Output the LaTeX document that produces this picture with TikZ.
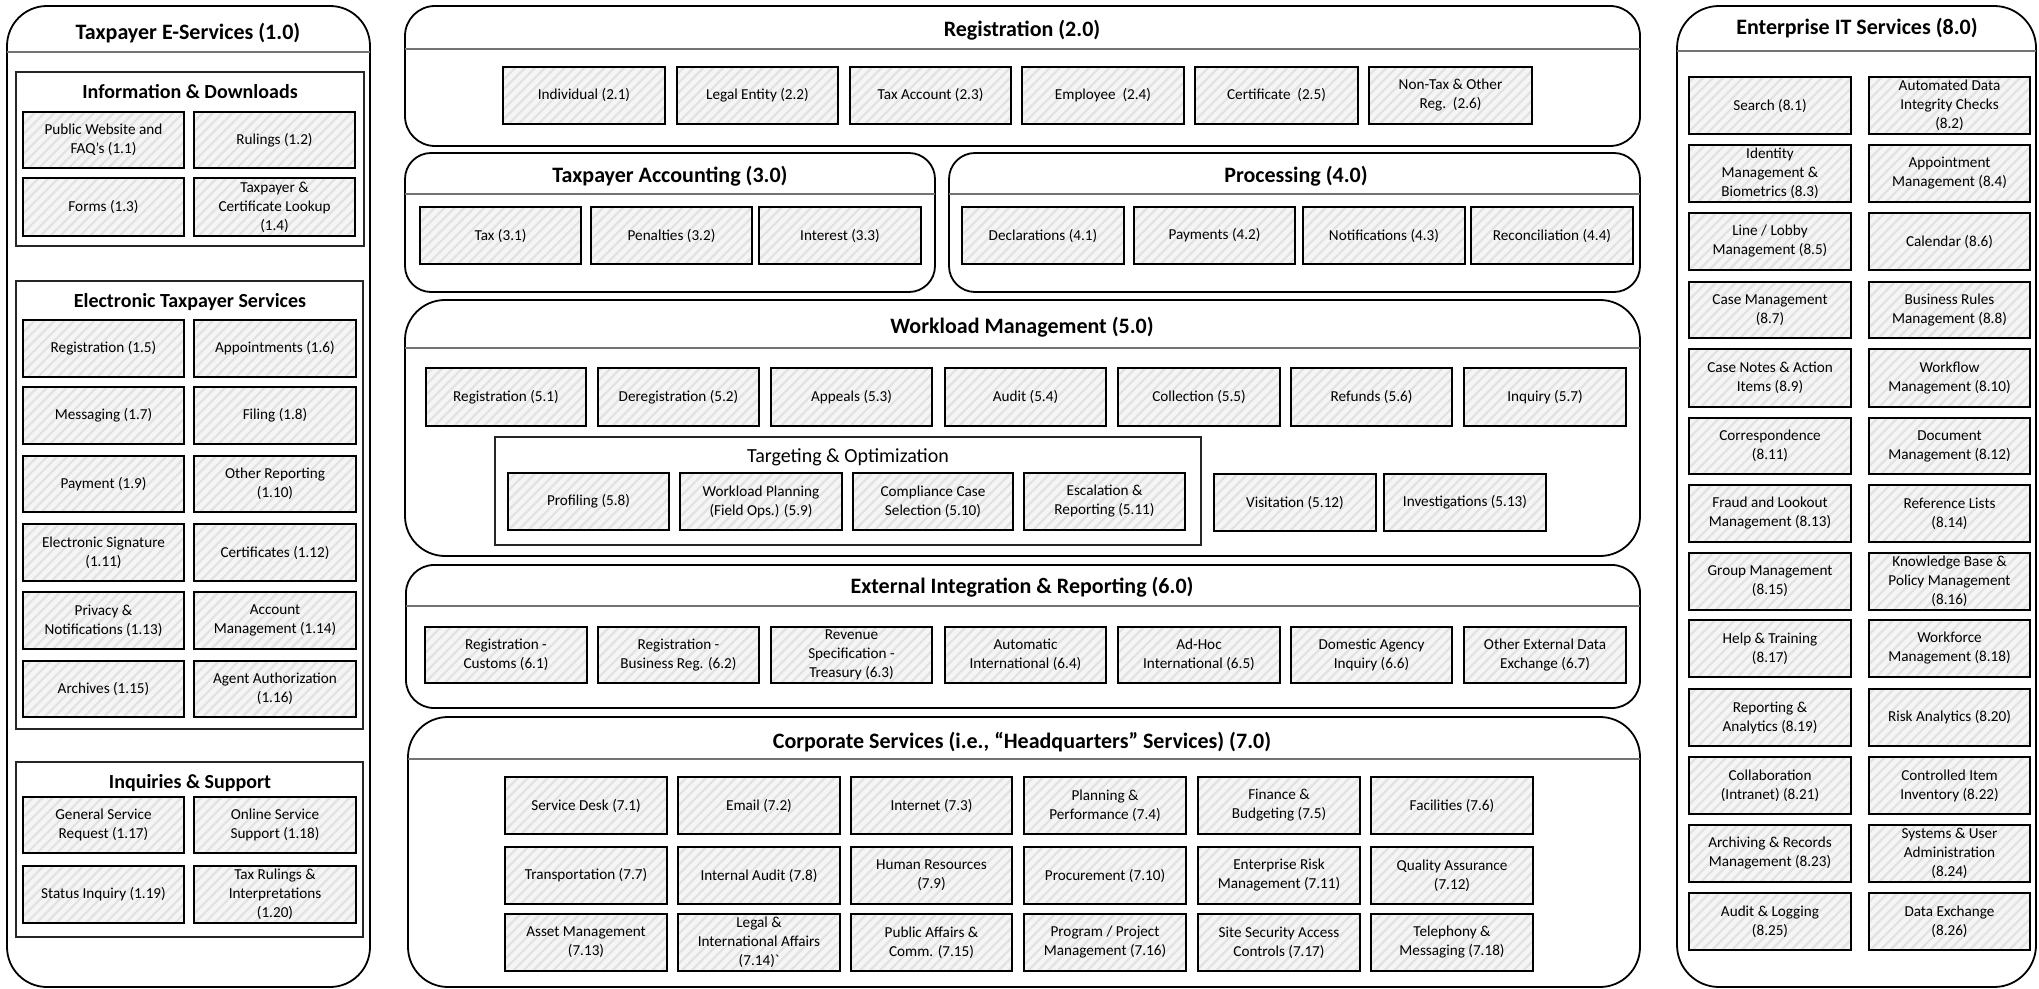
\documentclass[tikz,border=0pt]{standalone}
\usepackage{fontspec}
\setmainfont{Carlito}
\newfontfamily\nomapfont{Carlito}[Ligatures=ResetAll]
\usetikzlibrary{patterns.meta}
\definecolor{hatchbg}{gray}{0.96}
\definecolor{hatchfg}{gray}{0.885}
\definecolor{sepgray}{gray}{0.45}
\tikzset{
  item/.style={draw=black, line width=1.15pt, preaction={fill=hatchbg},
    pattern={Lines[angle=45,distance=3.5pt,line width=1.1pt]}, pattern color=hatchfg,
    inner sep=0pt, align=center, font=\fontsize{7.6}{9.5}\selectfont, text=black},
  panel/.style={draw=black, line width=0.9pt, inner sep=0pt},
  grp/.style={draw=black!85, line width=0.65pt, inner sep=0pt},
  ptitle/.style={font=\bfseries\fontsize{11}{13}\selectfont, inner sep=0pt},
  gtitle/.style={font=\bfseries\fontsize{10}{12}\selectfont, inner sep=0pt},
  ttitle/.style={font=\fontsize{10}{12}\selectfont, inner sep=0pt},
  sepline/.style={draw=sepgray, line width=0.6pt},
}
% box from (x1,y1) to (x2,y2) in pixel units
\newcommand\bx[6]{\node[item, minimum width={(#4-#2)*0.5pt}, minimum height={(#5-#3)*0.5pt}]
  (#1) at ({(#2+#4)/2},{(#3+#5)/2}) {#6};}
\newcommand\pn[6]{\node[panel, rounded corners=#6, minimum width={(#4-#2)*0.5pt}, minimum height={(#5-#3)*0.5pt}]
  (#1) at ({(#2+#4)/2},{(#3+#5)/2}) {};}
\newcommand\gp[5]{\node[grp, minimum width={(#4-#2)*0.5pt}, minimum height={(#5-#3)*0.5pt}]
  (#1) at ({(#2+#4)/2},{(#3+#5)/2}) {};}
\begin{document}
\begin{tikzpicture}[x=0.5pt,y=-0.5pt]
\useasboundingbox (0,0) rectangle (2039,989);

% ---------------- Column 1 ----------------
\pn{p1}{7}{6}{370}{987}{20pt}
\draw[sepline] (7,52) -- (370,52);
\node[ptitle] (t1) at (188,33) {Taxpayer E-Services (1.0)};

\gp{g11}{16}{72}{364}{246}
\node[gtitle] (tg11) at (190,92) {Information \& Downloads};
\bx{b1-1}{23}{112}{184}{168}{Public Website and\\FAQ’s (1.1)}
\bx{b1-2}{194}{112}{355}{168}{Rulings (1.2)}
\bx{b1-3}{23}{178}{184}{236}{Forms (1.3)}
\bx{b1-4}{194}{178}{355}{236}{Taxpayer \&\\Certificate Lookup\\(1.4)}

\gp{g12}{16}{281}{363}{729}
\node[gtitle] (tg12) at (190,302) {Electronic Taxpayer Services};
\bx{b1-5}{23}{320}{184}{377}{Registration (1.5)}
\bx{b1-6}{194}{320}{356}{377}{Appointments (1.6)}
\bx{b1-7}{23}{387}{184}{444}{Messaging (1.7)}
\bx{b1-8}{194}{387}{356}{444}{Filing (1.8)}
\bx{b1-9}{23}{456}{184}{512}{Payment (1.9)}
\bx{b1-10}{194}{456}{356}{512}{Other Reporting\\(1.10)}
\bx{b1-11}{23}{524}{184}{581}{Electronic Signature\\(1.11)}
\bx{b1-12}{194}{524}{356}{581}{Certificates (1.12)}
\bx{b1-13}{23}{592}{184}{649}{Privacy \&\\Notifications (1.13)}
\bx{b1-14}{194}{592}{356}{649}{Account\\Management (1.14)}
\bx{b1-15}{23}{661}{184}{717}{Archives (1.15)}
\bx{b1-16}{194}{661}{356}{717}{Agent Authorization\\(1.16)}

\gp{g13}{16}{762}{363}{937}
\node[gtitle] (tg13) at (190,783) {Inquiries \& Support};
\bx{b1-17}{23}{797}{184}{853}{General Service\\Request (1.17)}
\bx{b1-18}{194}{797}{356}{853}{Online Service\\Support (1.18)}
\bx{b1-19}{23}{866}{184}{923}{Status Inquiry (1.19)}
\bx{b1-20}{194}{866}{356}{923}{Tax Rulings \&\\Interpretations\\(1.20)}

% ---------------- Registration 2.0 ----------------
\pn{p2}{405}{6}{1640}{146}{15pt}
\draw[sepline] (405,49) -- (1640,49);
\node[ptitle] (t2) at (1022,30) {Registration (2.0)};
\bx{b2-1}{503}{67}{665}{124}{Individual (2.1)}
\bx{b2-2}{677}{67}{838}{124}{Legal Entity (2.2)}
\bx{b2-3}{850}{67}{1011}{124}{Tax Account (2.3)}
\bx{b2-4}{1022}{67}{1184}{124}{Employee\ \ (2.4)}
\bx{b2-5}{1195}{67}{1358}{124}{Certificate\ \ (2.5)}
\bx{b2-6}{1369}{67}{1532}{124}{Non-Tax \& Other\\Reg.\ \ (2.6)}

% ---------------- Taxpayer Accounting 3.0 ----------------
\pn{p3}{405}{153}{935}{292}{13pt}
\draw[sepline] (405,194) -- (935,194);
\node[ptitle] (t3) at (670,176) {Taxpayer Accounting (3.0)};
\bx{b3-1}{420}{207}{581}{264}{Tax (3.1)}
\bx{b3-2}{591}{207}{752}{264}{Penalties (3.2)}
\bx{b3-3}{759}{207}{921}{264}{Interest (3.3)}

% ---------------- Processing 4.0 ----------------
\pn{p4}{949}{153}{1640}{292}{13pt}
\draw[sepline] (949,194) -- (1640,194);
\node[ptitle] (t4) at (1296,176) {Processing (4.0)};
\bx{b4-1}{962}{207}{1124}{264}{Declarations (4.1)}
\bx{b4-2}{1134}{207}{1295}{264}{Payments (4.2)}
\bx{b4-3}{1303}{207}{1465}{264}{Notifications (4.3)}
\bx{b4-4}{1471}{207}{1633}{264}{Reconciliation (4.4)}

% ---------------- Workload Management 5.0 ----------------
\pn{p5}{405}{300}{1640}{556}{20pt}
\draw[sepline] (405,348) -- (1640,348);
\node[ptitle] (t5) at (1022,327) {Workload Management (5.0)};
\bx{b5-1}{426}{368}{586}{426}{Registration (5.1)}
\bx{b5-2}{598}{368}{759}{426}{Deregistration (5.2)}
\bx{b5-3}{771}{368}{932}{426}{Appeals (5.3)}
\bx{b5-4}{945}{368}{1106}{426}{Audit (5.4)}
\bx{b5-5}{1118}{368}{1280}{426}{Collection (5.5)}
\bx{b5-6}{1291}{368}{1452}{426}{Refunds (5.6)}
\bx{b5-7}{1464}{368}{1626}{426}{Inquiry (5.7)}
\gp{g51}{495}{437}{1201}{545}
\node[ttitle] (tg51) at (848,457) {Targeting \& Optimization};
\bx{b5-8}{508}{473}{669}{530}{Profiling (5.8)}
\bx{b5-9}{680}{473}{842}{530}{Workload Planning\\(Field Ops.) (5.9)}
\bx{b5-10}{853}{473}{1013}{530}{Compliance Case\\Selection (5.10)}
\bx{b5-11}{1024}{473}{1185}{530}{Escalation \&\\Reporting (5.11)}
\bx{b5-12}{1214}{474}{1376}{531}{Visitation (5.12)}
\bx{b5-13}{1384}{474}{1546}{531}{Investigations (5.13)}

% ---------------- External Integration 6.0 ----------------
\pn{p6}{406}{565}{1640}{708}{14pt}
\draw[sepline] (406,606) -- (1640,606);
\node[ptitle] (t6) at (1022,587) {External Integration \& Reporting (6.0)};
\bx{b6-1}{425}{627}{587}{683}{Registration -\\Customs (6.1)}
\bx{b6-2}{598}{627}{759}{683}{Registration -\\Business Reg. (6.2)}
\bx{b6-3}{771}{627}{932}{683}{Revenue\\Specification -\\Treasury (6.3)}
\bx{b6-4}{945}{627}{1106}{683}{Automatic\\International (6.4)}
\bx{b6-5}{1118}{627}{1280}{683}{Ad-Hoc\\International (6.5)}
\bx{b6-6}{1291}{627}{1452}{683}{Domestic Agency\\Inquiry (6.6)}
\bx{b6-7}{1464}{627}{1626}{683}{Other External Data\\Exchange (6.7)}

% ---------------- Corporate Services 7.0 ----------------
\pn{p7}{408}{717}{1640}{987}{20pt}
\draw[sepline] (408,759) -- (1640,759);
\node[ptitle] (t7) at (1022,742) {Corporate Services (i.e., “Headquarters” Services) (7.0)};
\bx{b7-1}{505}{777}{667}{834}{Service Desk (7.1)}
\bx{b7-2}{678}{777}{840}{834}{Email (7.2)}
\bx{b7-3}{851}{777}{1012}{834}{Internet (7.3)}
\bx{b7-4}{1024}{777}{1186}{834}{Planning \&\\Performance (7.4)}
\bx{b7-5}{1198}{777}{1360}{834}{Finance \&\\Budgeting (7.5)}
\bx{b7-6}{1371}{777}{1533}{834}{Facilities (7.6)}
\bx{b7-7}{505}{847}{667}{904}{Transportation (7.7)}
\bx{b7-8}{678}{847}{840}{904}{Internal Audit (7.8)}
\bx{b7-9}{851}{847}{1012}{904}{Human Resources\\(7.9)}
\bx{b7-10}{1024}{847}{1186}{904}{Procurement (7.10)}
\bx{b7-11}{1198}{847}{1360}{904}{Enterprise Risk\\Management (7.11)}
\bx{b7-12}{1371}{847}{1533}{904}{Quality Assurance\\(7.12)}
\bx{b7-13}{505}{914}{667}{971}{Asset Management\\(7.13)}
\bx{b7-14}{678}{914}{840}{971}{Legal \&\\International Affairs\\(7.14){\nomapfont`}}
\bx{b7-15}{851}{914}{1012}{971}{Public Affairs \&\\Comm. (7.15)}
\bx{b7-16}{1024}{914}{1186}{971}{Program / Project\\Management (7.16)}
\bx{b7-17}{1198}{914}{1360}{971}{Site Security Access\\Controls (7.17)}
\bx{b7-18}{1371}{914}{1533}{971}{Telephony \&\\Messaging (7.18)}

% ---------------- Enterprise IT 8.0 ----------------
\pn{p8}{1677}{6}{2036}{987}{21pt}
\draw[sepline] (1677,51) -- (2036,51);
\node[ptitle] (t8) at (1857,28) {Enterprise IT Services (8.0)};
\bx{b8-1}{1689}{77}{1851}{134}{Search (8.1)}
\bx{b8-2}{1869}{77}{2030}{134}{Automated Data\\Integrity Checks\\(8.2)}
\bx{b8-3}{1689}{145}{1851}{202}{Identity\\Management \&\\Biometrics (8.3)}
\bx{b8-4}{1869}{145}{2030}{202}{Appointment\\Management (8.4)}
\bx{b8-5}{1689}{213}{1851}{270}{Line / Lobby\\Management (8.5)}
\bx{b8-6}{1869}{213}{2030}{270}{Calendar (8.6)}
\bx{b8-7}{1689}{282}{1851}{338}{Case Management\\(8.7)}
\bx{b8-8}{1869}{282}{2030}{338}{Business Rules\\Management (8.8)}
\bx{b8-9}{1689}{349}{1851}{407}{Case Notes \& Action\\Items (8.9)}
\bx{b8-10}{1869}{349}{2030}{407}{Workflow\\Management (8.10)}
\bx{b8-11}{1689}{418}{1851}{474}{Correspondence\\(8.11)}
\bx{b8-12}{1869}{418}{2030}{474}{Document\\Management (8.12)}
\bx{b8-13}{1689}{485}{1851}{542}{Fraud and Lookout\\Management (8.13)}
\bx{b8-14}{1869}{485}{2030}{542}{Reference Lists\\(8.14)}
\bx{b8-15}{1689}{553}{1851}{610}{Group Management\\(8.15)}
\bx{b8-16}{1869}{553}{2030}{610}{Knowledge Base \&\\Policy Management\\(8.16)}
\bx{b8-17}{1689}{620}{1851}{677}{Help \& Training\\(8.17)}
\bx{b8-18}{1869}{620}{2030}{677}{Workforce\\Management (8.18)}
\bx{b8-19}{1689}{689}{1851}{746}{Reporting \&\\Analytics (8.19)}
\bx{b8-20}{1869}{689}{2030}{746}{Risk Analytics (8.20)}
\bx{b8-21}{1689}{757}{1851}{814}{Collaboration\\(Intranet) (8.21)}
\bx{b8-22}{1869}{757}{2030}{814}{Controlled Item\\Inventory (8.22)}
\bx{b8-23}{1689}{825}{1851}{882}{Archiving \& Records\\Management (8.23)}
\bx{b8-24}{1869}{825}{2030}{882}{Systems \& User\\Administration\\(8.24)}
\bx{b8-25}{1689}{893}{1851}{950}{Audit \& Logging\\(8.25)}
\bx{b8-26}{1869}{893}{2030}{950}{Data Exchange\\(8.26)}
\end{tikzpicture}
\end{document}
